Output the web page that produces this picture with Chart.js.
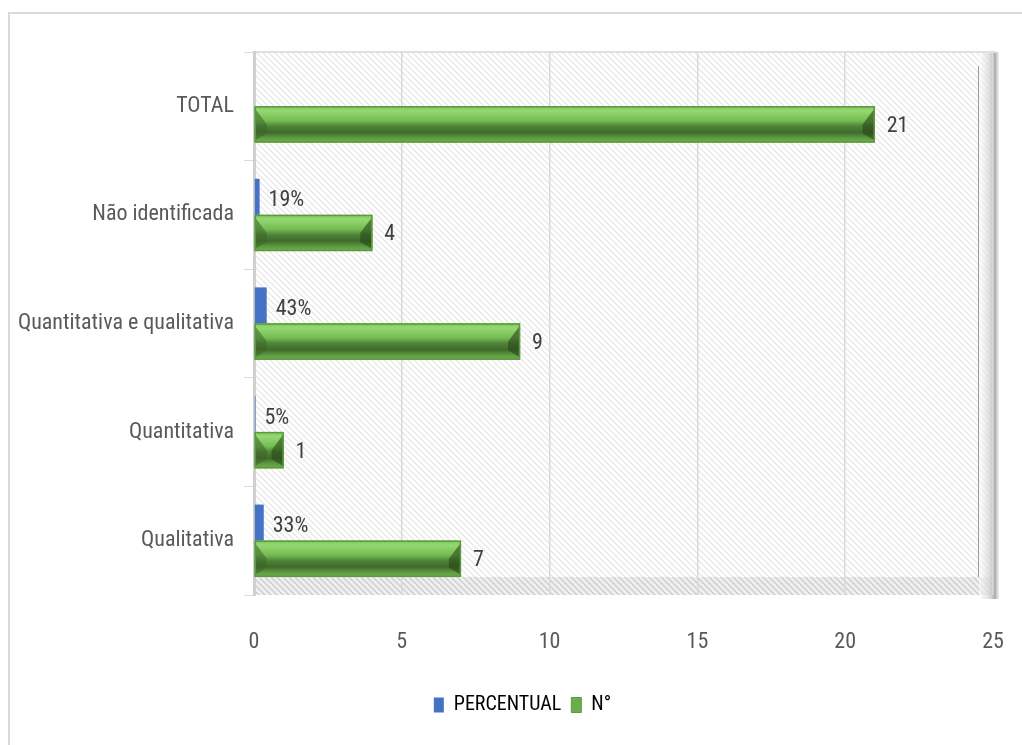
<!DOCTYPE html>
<html>
<head>
<meta charset="utf-8">
<script src="https://cdn.jsdelivr.net/npm/chart.js@4/dist/chart.umd.min.js"></script>
<style>
html,body{margin:0;padding:0;background:#fff;}
#wrap{position:relative;width:1022px;height:745px;overflow:hidden;}
#frame{position:absolute;left:8px;top:12px;width:1030px;height:760px;border:2px solid #d9d9d9;box-sizing:border-box;}
canvas{position:absolute;left:0;top:0;}
</style>
</head>
<body>
<div id="wrap"><div id="frame"></div><canvas id="c" width="1022" height="745"></canvas></div>
<script>
const categories = ['TOTAL', 'Não identificada', 'Quantitativa e qualitativa', 'Quantitativa', 'Qualitativa'];
const percentual = [null, 0.19, 0.43, 0.05, 0.33];
const numero = [21, 4, 9, 1, 7];
const xTicks = [0, 5, 10, 15, 20, 25];
const seriesNames = ['PERCENTUAL', 'N°'];

const FONT = "'Liberation Sans Narrow', 'Roboto Condensed', 'DejaVu Sans Condensed', sans-serif";

function hatch(color, bg, step) {
  const c = document.createElement('canvas');
  c.width = step; c.height = step;
  const g = c.getContext('2d');
  g.fillStyle = bg; g.fillRect(0, 0, step, step);
  g.strokeStyle = color; g.lineWidth = 1.2;
  g.beginPath();
  g.moveTo(-1, -1); g.lineTo(step + 1, step + 1);
  g.moveTo(-1, step - 1); g.lineTo(1, step + 1);
  g.moveTo(step - 1, -1); g.lineTo(step + 1, 1);
  g.stroke();
  return c;
}

const legendShift = {
  id: 'legendShift',
  afterLayout(chart) {
    const L = chart.legend;
    if (L) { L.left += 26; L.right += 26; }
  }
};

const bgPlugin = {
  id: 'bgPlugin',
  beforeDraw(chart) {
    const {ctx, chartArea: a} = chart;
    ctx.save();
    ctx.fillStyle = ctx.createPattern(hatch('#e4e4e4', '#ffffff', 6), 'repeat');
    ctx.fillRect(a.left, a.top, a.right - a.left, a.bottom - a.top);
    ctx.fillStyle = ctx.createPattern(hatch('#c8c8c8', '#eeeeee', 6), 'repeat');
    ctx.fillRect(a.left, a.bottom - 18, a.right - a.left, 18);
    const gr = ctx.createLinearGradient(a.right - 14, 0, a.right + 6, 0);
    gr.addColorStop(0, 'rgba(255,255,255,0.5)');
    gr.addColorStop(0.6, 'rgba(205,205,205,0.8)');
    gr.addColorStop(0.8, 'rgba(160,160,160,0.9)');
    gr.addColorStop(1, 'rgba(230,230,230,0.6)');
    ctx.fillStyle = gr;
    ctx.fillRect(a.right - 14, a.top, 20, a.bottom - a.top + 4);
    ctx.strokeStyle = '#9a9a9a'; ctx.lineWidth = 1;
    ctx.beginPath(); ctx.moveTo(a.right - 14.5, a.top + 14); ctx.lineTo(a.right - 14.5, a.bottom - 18); ctx.stroke();
    ctx.strokeStyle = '#e0e0e0'; ctx.lineWidth = 2;
    ctx.beginPath(); ctx.moveTo(a.left, a.top); ctx.lineTo(a.right + 3, a.top); ctx.stroke();
    ctx.restore();
  }
};

const bevelPlugin = {
  id: 'bevelPlugin',
  afterDatasetsDraw(chart) {
    const ctx = chart.ctx;
    const meta = chart.getDatasetMeta(1);
    ctx.save();
    meta.data.forEach(el => {
      const {x, y, base, height} = el.getProps(['x', 'y', 'base', 'height'], true);
      const x0 = Math.min(base, x), x1 = Math.max(base, x);
      const y0 = y - height / 2, y1 = y + height / 2, h = height;
      const g = ctx.createLinearGradient(0, y0, 0, y1);
      g.addColorStop(0, '#7cc658');
      g.addColorStop(0.12, '#95d873');
      g.addColorStop(0.4, '#74bb50');
      g.addColorStop(0.55, '#50843a');
      g.addColorStop(0.72, '#3f6a2b');
      g.addColorStop(0.88, '#5e9c40');
      g.addColorStop(1, '#6fae4d');
      ctx.fillStyle = g;
      ctx.fillRect(x0, y0, x1 - x0, h);
      const inset = Math.min(12, (x1 - x0) / 2);
      ctx.fillStyle = 'rgba(60,100,40,0.55)';
      ctx.beginPath();
      ctx.moveTo(x0, y0 + 2); ctx.lineTo(x0 + inset, y0 + h * 0.5); ctx.lineTo(x0 + inset, y0 + h * 0.75); ctx.lineTo(x0, y1 - 2); ctx.closePath(); ctx.fill();
      ctx.fillStyle = 'rgba(40,70,25,0.6)';
      ctx.beginPath();
      ctx.moveTo(x1, y0 + 2); ctx.lineTo(x1 - inset, y0 + h * 0.5); ctx.lineTo(x1 - inset, y0 + h * 0.75); ctx.lineTo(x1, y1 - 2); ctx.closePath(); ctx.fill();
      ctx.strokeStyle = '#5c9a3e'; ctx.lineWidth = 1.5;
      ctx.strokeRect(x0 + 0.5, y0 + 0.5, x1 - x0 - 1, h - 1);
    });
    ctx.restore();
  }
};

const labelPlugin = {
  id: 'labelPlugin',
  afterDatasetsDraw(chart) {
    const ctx = chart.ctx;
    ctx.save();
    ctx.font = '22px ' + FONT;
    ctx.fillStyle = '#404040';
    ctx.textAlign = 'left';
    ctx.textBaseline = 'middle';
    chart.data.datasets.forEach((ds, di) => {
      const meta = chart.getDatasetMeta(di);
      meta.data.forEach((el, i) => {
        const v = ds.data[i];
        if (v === null || v === undefined) return;
        const txt = di === 0 ? Math.round(v * 100) + '%' : String(v);
        const off = di === 0 ? 9 : 12;
        ctx.fillText(txt, el.x + off, el.y + (di === 0 ? 4 : 2));
      });
    });
    ctx.restore();
  }
};

new Chart(document.getElementById('c'), {
  type: 'bar',
  data: {
    labels: categories,
    datasets: [
      {label: seriesNames[0], data: percentual, backgroundColor: '#4472c4', borderWidth: 0},
      {label: seriesNames[1], data: numero, backgroundColor: '#6aae4a', borderWidth: 0}
    ]
  },
  options: {
    indexAxis: 'y',
    responsive: false,
    animation: false,
    events: [],
    layout: {padding: {top: 52, right: 29, bottom: 20, left: 0}},
    datasets: {bar: {categoryPercentage: 0.665, barPercentage: 1}},
    scales: {
      x: {
        min: 0, max: 25,
        afterBuildTicks: s => { s.ticks = xTicks.map(v => ({value: v})); },
        grid: {color: '#d9d9d9', lineWidth: 1.5, tickLength: 30, drawTicks: true, tickColor: 'rgba(0,0,0,0)'},
        border: {display: false},
        ticks: {font: {family: FONT, size: 22}, color: '#595959', padding: 4},
        afterFit: s => { s.height = 90; }
      },
      y: {
        grid: {drawOnChartArea: false, color: '#d9d9d9', tickLength: 10, offset: true},
        border: {display: true, color: '#d0d0d0', width: 3},
        ticks: {font: {family: FONT, size: 22}, color: '#595959', padding: 10},
        afterFit: s => { s.width = 254; }
      }
    },
    plugins: {
      legend: {
        position: 'bottom',
        labels: {
          font: {family: FONT, size: 20}, color: '#595959',
          boxWidth: 10, boxHeight: 15, padding: 10,
          generateLabels: chart => chart.data.datasets.map((d, i) => ({
            text: d.label, fillStyle: i === 0 ? '#4472c4' : '#6aae4a',
            strokeStyle: i === 0 ? '#4472c4' : '#5c9a3e', lineWidth: i === 0 ? 0 : 1, datasetIndex: i
          }))
        }
      },
      tooltip: {enabled: false}
    }
  },
  plugins: [legendShift, bgPlugin, bevelPlugin, labelPlugin]
});
</script>
</body>
</html>
